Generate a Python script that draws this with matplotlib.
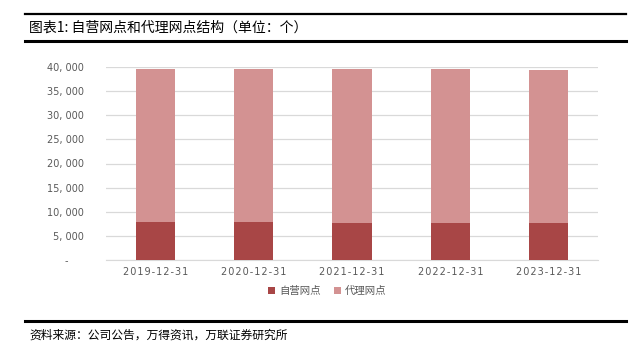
import matplotlib
matplotlib.use("Agg")
import matplotlib.pyplot as plt
from matplotlib.lines import Line2D
from matplotlib.ticker import FuncFormatter
import numpy as np

plt.rcParams['font.family'] = ['Noto Sans CJK SC', 'DejaVu Sans']

categories = ["2019-12-31", "2020-12-31", "2021-12-31", "2022-12-31", "2023-12-31"]
self_operated = [7900, 7900, 7760, 7760, 7610]
agent = [31700, 31700, 31840, 31740, 31790]
series_names = ["自营网点", "代理网点"]
title = "图表1: 自营网点和代理网点结构（单位：个）"
source = "资料来源：公司公告，万得资讯，万联证券研究所"

W, H = 632, 358
fig = plt.figure(figsize=(W / 100, H / 100), dpi=100)

ax = fig.add_axes([106 / W, 1 - 260 / H, 492 / W, (260 - 67) / H])
x = np.arange(len(categories))
c_dark = "#A84646"
c_light = "#D39292"
ax.bar(x, self_operated, width=0.4, color=c_dark, label=series_names[0], zorder=3)
ax.bar(x, agent, width=0.4, bottom=self_operated, color=c_light, label=series_names[1], zorder=3)
ax.set_xlim(-0.5, len(categories) - 0.5)
ax.set_ylim(0, 40000)
ax.set_yticks(np.arange(0, 40001, 5000))
ax.yaxis.set_major_formatter(FuncFormatter(lambda v, p: "-     " if v == 0 else f"{int(v):,}".replace(",", ", ")))
ax.grid(axis="y", color="#D9D9D9", linewidth=0.9, zorder=0)
for s in ["top", "right", "left"]:
    ax.spines[s].set_visible(False)
ax.spines["bottom"].set_color("#D9D9D9")
ax.tick_params(axis="both", length=0, colors="#595959")
ax.tick_params(axis="y", pad=16)
ax.tick_params(axis="x", pad=5)
ax.set_xticks(x)
ax.set_xticklabels(["\u200a".join(c) for c in categories])
for lab in ax.get_xticklabels():
    lab.set_family(['DejaVu Sans'])
    lab.set_fontsize(7)
for lab in ax.get_yticklabels():
    lab.set_family(['DejaVu Sans'])
    lab.set_fontsize(7)

leg = ax.legend(loc="center", bbox_to_anchor=(0.45, -0.16), ncol=2, frameon=False,
                fontsize=7.5, handlelength=0.7, handleheight=0.7, handletextpad=0.4,
                columnspacing=1.2, labelcolor="#595959")

# header / footer lines and texts
fig.add_artist(Line2D([25 / W, 626 / W], [1 - 14 / H, 1 - 14 / H], color="black", lw=1.6))
fig.add_artist(Line2D([25 / W, 626 / W], [1 - 41 / H, 1 - 41 / H], color="black", lw=2.2))
fig.add_artist(Line2D([25 / W, 626 / W], [1 - 321 / H, 1 - 321 / H], color="black", lw=2.2))
fig.text(29 / W, 1 - 28 / H, title, fontsize=10, va="center", ha="left", color="black")
fig.text(29 / W, 1 - 335 / H, source, fontsize=8.5, va="center", ha="left", color="black", style="italic")

fig.savefig("out.png", dpi=100, facecolor="white")
